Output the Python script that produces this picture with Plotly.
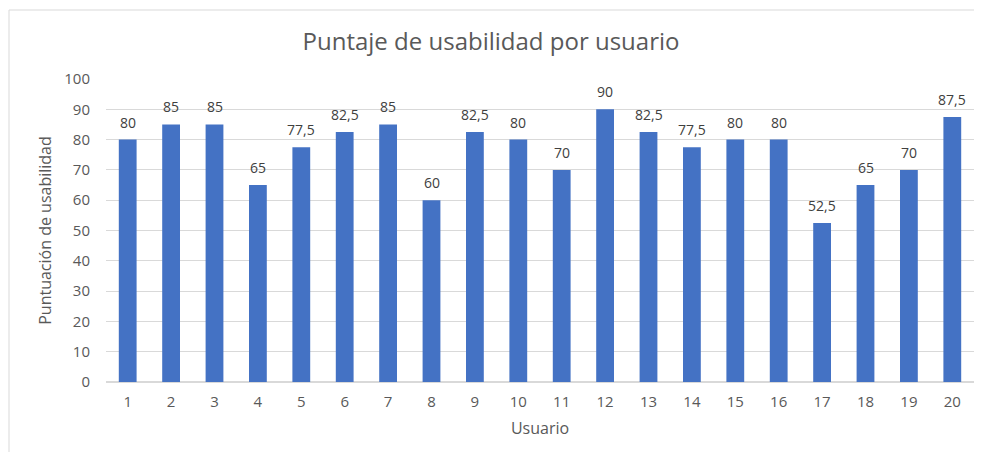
import plotly.graph_objects as go

# ---------- DATA ----------
usuarios = [str(i) for i in range(1, 21)]
puntajes = [80, 85, 85, 65, 77.5, 82.5, 85, 60, 82.5, 80,
            70, 90, 82.5, 77.5, 80, 80, 52.5, 65, 70, 87.5]
etiquetas = [f"{v:g}".replace(".", ",") for v in puntajes]

FONT = "Open Sans, Noto Sans, sans-serif"
GRID = "#d9d9d9"
TXT = "#595959"

# page body has an 8px margin, so the figure is sized to fit inside it
W, H = 966, 444
L, R, T, B = 98, 0, 71, 70

bars = go.Bar(
    x=usuarios, y=puntajes,
    marker=dict(color="#4472c4", line=dict(width=0)),
    width=0.41,
    hoverinfo="x+y",
)

fig = go.Figure(data=[bars])
fig.update_layout(
    width=W, height=H,
    margin=dict(l=L, r=R, t=T, b=B),
    paper_bgcolor="white", plot_bgcolor="white",
    font=dict(family=FONT, color=TXT, size=15),
    title=dict(text="Puntaje de usabilidad por usuario", x=0.5, xanchor="center",
               y=1 - 34 / H, yanchor="middle",
               font=dict(size=24, color=TXT, family=FONT)),
    showlegend=False,
)

# data labels, a bit higher above the bars like the Excel original
# (category axis: annotations are placed by category index)
for i, (v, t) in enumerate(zip(puntajes, etiquetas)):
    fig.add_annotation(x=i, y=v, text=t, showarrow=False,
                       yanchor="bottom", yshift=6,
                       font=dict(size=14, color="#404040", family=FONT))

fig.update_xaxes(
    type="category", range=[-0.5, len(usuarios) - 0.5],
    showgrid=False, showline=True, linecolor=GRID, linewidth=1,
    ticks="outside", ticklen=6, tickcolor="rgba(0,0,0,0)",
    tickfont=dict(size=15, color=TXT),
    title=dict(text="Usuario", font=dict(size=16, color=TXT), standoff=12),
    automargin=False,
)
fig.update_yaxes(
    range=[0, 100], dtick=10, showgrid=True, gridcolor=GRID, gridwidth=1,
    zeroline=True, zerolinecolor=GRID, showline=False,
    ticks="outside", ticklen=12, tickcolor="rgba(0,0,0,0)",
    tickfont=dict(size=15, color=TXT),
    title=dict(text="Puntuación de usabilidad", font=dict(size=16, color=TXT), standoff=8),
    automargin=False,
)

# chart frame (chart area border, right/bottom edges fall outside the view)
pw, ph = W - L - R, H - T - B
fig.add_shape(type="rect", xref="paper", yref="paper",
              x0=(1 - L) / pw, x1=1.5, y0=-0.8, y1=(ph + T - 2) / ph,
              line=dict(color=GRID, width=1), fillcolor="rgba(0,0,0,0)", layer="below")

fig.write_html("out.html")
